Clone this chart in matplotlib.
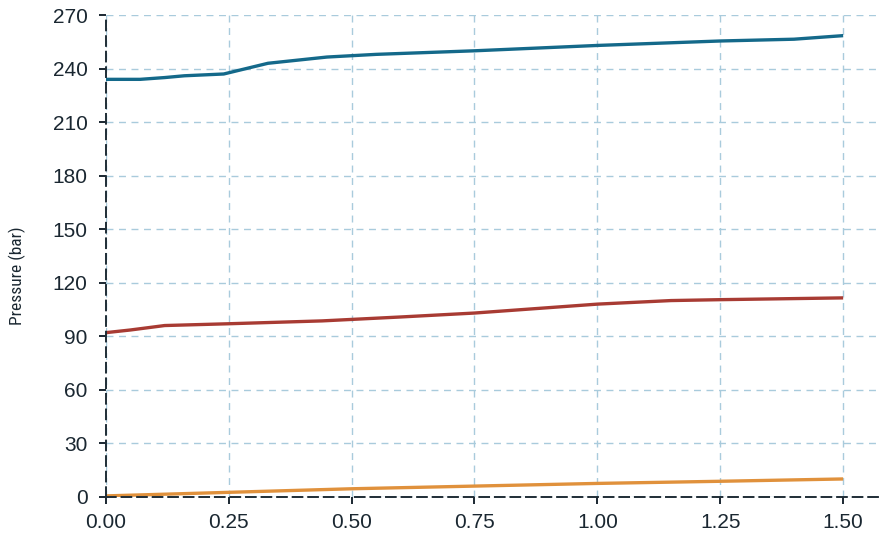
import numpy as np
import matplotlib.pyplot as plt

# pressure readings vs time
t_top = [0.00, 0.07, 0.12, 0.16, 0.24, 0.33, 0.45, 0.55, 0.75, 1.00, 1.25, 1.40, 1.50]
p_top = [234.0, 234.0, 235.0, 236.0, 237.0, 243.0, 246.5, 248.0, 250.0, 253.0, 255.5, 256.5, 258.5]

t_mid = [0.00, 0.05, 0.12, 0.25, 0.44, 0.60, 0.75, 0.90, 1.00, 1.15, 1.25, 1.50]
p_mid = [92.0, 93.5, 96.0, 97.0, 98.6, 100.8, 103.0, 106.0, 108.0, 110.0, 110.5, 111.5]

t_low = [0.00, 0.25, 0.50, 0.75, 1.00, 1.25, 1.50]
p_low = [0.5, 2.5, 4.5, 6.0, 7.5, 8.7, 10.0]

xticks = [0.00, 0.25, 0.50, 0.75, 1.00, 1.25, 1.50]
yticks = [0, 30, 60, 90, 120, 150, 180, 210, 240, 270]

plt.rcParams['font.family'] = ['Liberation Sans', 'DejaVu Sans']

fig = plt.figure(figsize=(8.81, 5.40), dpi=100)
ax = fig.add_axes([0.120, 0.080, 0.880, 0.892])

ax.plot(t_top, p_top, color='#14698a', lw=2.4, solid_capstyle='butt')
ax.plot(t_mid, p_mid, color='#a83b33', lw=2.4, solid_capstyle='butt')
ax.plot(t_low, p_low, color='#e0913c', lw=2.4, solid_capstyle='butt')

ax.set_xlim(0, 1.577)
ax.set_ylim(0, 270)
ax.set_xticks(xticks)
ax.set_xticklabels(['%.2f' % v for v in xticks])
ax.set_yticks(yticks)

ax.grid(True, color='#a9cbdc', linestyle=(0, (5, 4)), lw=1.0)
ax.set_axisbelow(True)

for side in ['top', 'right']:
    ax.spines[side].set_visible(False)
for side in ['left', 'bottom']:
    ax.spines[side].set_color('#1f2d36')
    ax.spines[side].set_linestyle((0, (5, 3)))
    ax.spines[side].set_linewidth(1.4)

ax.tick_params(axis='both', colors='#1a2731', labelsize=15, length=5, width=1.4, direction='out')
ax.tick_params(axis='x', pad=7)
ax.tick_params(axis='y', pad=8)

ax.set_ylabel('Pressure (bar)', fontsize=12.5,
              family=['Roboto Condensed', 'Liberation Sans', 'DejaVu Sans'],
              color='#1a2731')
ax.yaxis.set_label_coords(-0.103, 0.46)

fig.savefig('out.png', dpi=100)
